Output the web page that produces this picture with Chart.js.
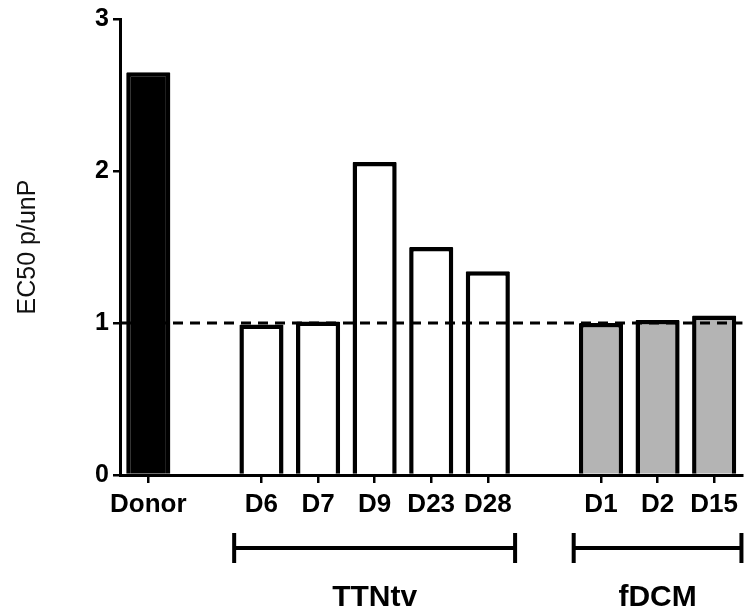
<!DOCTYPE html>
<html>
<head>
<meta charset="utf-8">
<script src="https://cdn.jsdelivr.net/npm/chart.js@4/dist/chart.umd.min.js"></script>
<style>
    html, body { margin: 0; padding: 0; background: #fff; overflow: hidden; }
    #wrap { width: 744px; height: 615px; position: relative; }
</style>
</head>
<body>
<div id="wrap"><canvas id="myChart"></canvas></div>
<script>
// values
var donorLabels = ['Donor'];
var donorValues = [2.65];
var ttntvLabels = ['D6', 'D7', 'D9', 'D23', 'D28'];
var ttntvValues = [0.99, 1.01, 2.06, 1.50, 1.34];
var fdcmLabels = ['D1', 'D2', 'D15'];
var fdcmValues = [1.00, 1.02, 1.05];
var yTicks = [0, 1, 2, 3];
var refValue = 1;
var groupNames = ['TTNtv', 'fDCM'];

// one empty slot between the groups
var labels = donorLabels.concat([''], ttntvLabels, [''], fdcmLabels);
var values = donorValues.concat([null], ttntvValues, [null], fdcmValues);
var colors = donorLabels.map(function () { return '#000000'; })
    .concat(['#ffffff'], ttntvLabels.map(function () { return '#ffffff'; }),
            ['#ffffff'], fdcmLabels.map(function () { return '#b4b4b4'; }));
// no tick mark under the empty slots
var xTickColors = labels.map(function (l) { return l === '' ? 'rgba(0,0,0,0)' : '#000000'; });

var groups = [
    { name: groupNames[0], first: labels.indexOf(ttntvLabels[0]), last: labels.indexOf(ttntvLabels[ttntvLabels.length - 1]) },
    { name: groupNames[1], first: labels.indexOf(fdcmLabels[0]), last: labels.indexOf(fdcmLabels[fdcmLabels.length - 1]) }
];

var fontFamily = 'Arial, "Liberation Sans", Helvetica, sans-serif';

// dashed line at EC50 ratio = 1
var refLinePlugin = {
    id: 'refLine',
    afterDatasetsDraw: function (chart) {
        var ctx = chart.ctx;
        var area = chart.chartArea;
        var y = chart.scales.y.getPixelForValue(refValue);
        ctx.save();
        ctx.strokeStyle = '#000';
        ctx.lineWidth = 3;
        ctx.setLineDash([10, 7]);
        ctx.beginPath();
        ctx.moveTo(area.left + 2, y);
        ctx.lineTo(area.right, y);
        ctx.stroke();
        ctx.restore();
    }
};

// brackets + group names under the x axis
var bracketPlugin = {
    id: 'brackets',
    afterDraw: function (chart) {
        var ctx = chart.ctx;
        var xs = chart.scales.x;
        var half = (xs.getPixelForValue(1) - xs.getPixelForValue(0)) / 2;
        var base = chart.chartArea.bottom;
        var yLine = base + 73;
        ctx.save();
        ctx.strokeStyle = '#000';
        ctx.fillStyle = '#000';
        ctx.lineWidth = 4;
        groups.forEach(function (g) {
            var x0 = xs.getPixelForValue(g.first) - half + 1;
            var x1 = xs.getPixelForValue(g.last) + half - 1;
            ctx.beginPath();
            ctx.moveTo(x0, yLine);
            ctx.lineTo(x1, yLine);
            ctx.moveTo(x0, yLine - 15);
            ctx.lineTo(x0, yLine + 15);
            ctx.moveTo(x1, yLine - 15);
            ctx.lineTo(x1, yLine + 15);
            ctx.stroke();
            ctx.font = 'bold 30px ' + fontFamily;
            ctx.textAlign = 'center';
            ctx.textBaseline = 'middle';
            ctx.fillText(g.name, (x0 + x1) / 2, base + 123);
        });
        ctx.restore();
    }
};

var ctx = document.getElementById('myChart').getContext('2d');
var myChart = new Chart(ctx, {
    type: 'bar',
    data: {
        labels: labels,
        datasets: [{
            data: values,
            backgroundColor: colors,
            borderColor: '#000000',
            borderWidth: 4.5,
            borderSkipped: 'start',
            borderRadius: 1,
            barPercentage: 0.78,
            categoryPercentage: 1.0
        }]
    },
    options: {
        responsive: true,
        maintainAspectRatio: false,
        animation: false,
        layout: { padding: { top: 19, left: 0, right: 0, bottom: 0 } },
        plugins: {
            legend: { display: false },
            tooltip: { enabled: false }
        },
        scales: {
            x: {
                offset: true,
                grid: {
                    display: true,
                    offset: false,
                    drawOnChartArea: false,
                    drawTicks: true,
                    tickLength: 8,
                    lineWidth: 2.5,
                    color: xTickColors
                },
                border: { display: true, color: '#000', width: 3 },
                ticks: {
                    color: '#000',
                    padding: 6,
                    maxRotation: 0,
                    autoSkip: false,
                    font: { family: fontFamily, size: 26, weight: 'bold' }
                },
                afterFit: function (scale) { scale.height = 140; }
            },
            y: {
                min: 0,
                max: 3,
                afterBuildTicks: function (scale) {
                    scale.ticks = yTicks.map(function (v) { return { value: v }; });
                },
                grid: {
                    display: true,
                    drawOnChartArea: false,
                    drawTicks: true,
                    tickLength: 7,
                    lineWidth: 2.5,
                    color: '#000'
                },
                border: { display: true, color: '#000', width: 3 },
                ticks: {
                    color: '#000',
                    padding: 4,
                    font: { family: fontFamily, size: 25, weight: 'bold' }
                },
                title: {
                    display: true,
                    text: 'EC50 p/unP',
                    color: '#111',
                    padding: { top: 13, bottom: 0 },
                    font: { family: fontFamily, size: 25, weight: 'normal' }
                },
                afterFit: function (scale) { scale.width = 120; }
            }
        }
    },
    plugins: [refLinePlugin, bracketPlugin]
});
</script>
</body>
</html>
